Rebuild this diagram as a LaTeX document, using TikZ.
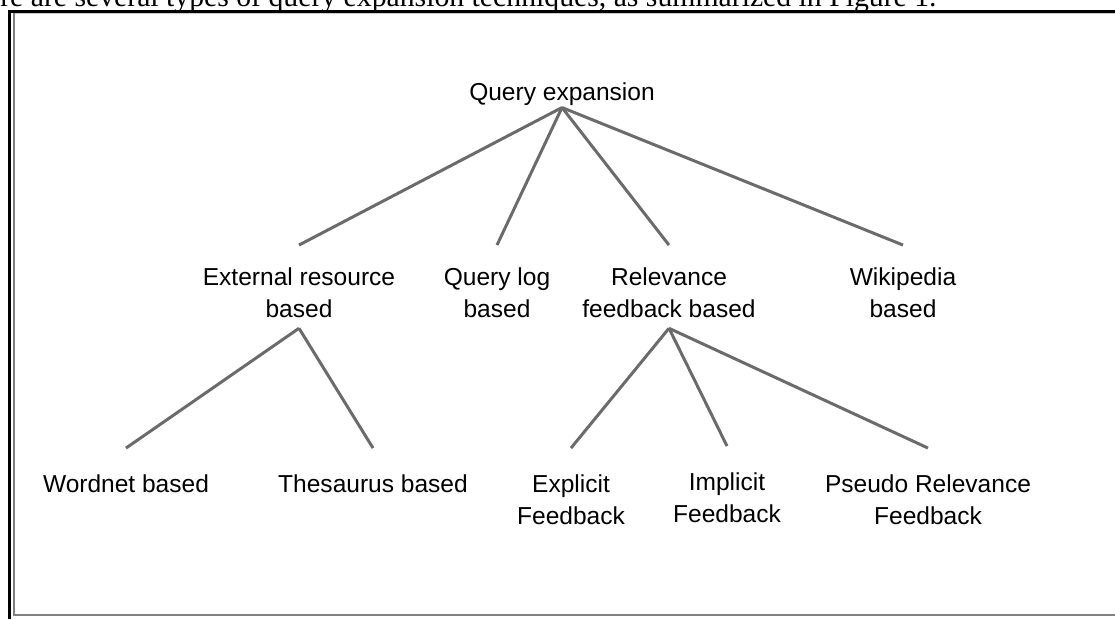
\documentclass[tikz,border=0pt]{standalone}
\usepackage{fontspec}
\setmainfont{Liberation Sans}
\newfontfamily\bodyserif{Liberation Serif}
\usepackage{tikz}
\usetikzlibrary{positioning}

\begin{document}
\begin{tikzpicture}[
        x=0.75pt, y=-0.75pt,
        font=\fontsize{18.4}{24}\selectfont,
        lbl/.style={align=center, inner sep=0pt},
        edge/.style={draw=black!58, line width=2.25pt},
    ]
    \clip (0,0) rectangle (1115,619);

    % ---- Running text above the figure ----
    \node[anchor=base west, inner sep=0pt, font=\bodyserif\fontsize{22.3}{26}\selectfont] (runin) at (0,6) {re are several types of query expansion techniques, as summarized in Figure 1.};

    % ---- Frame ----
    \draw[black, line width=2pt] (9.5,619) -- (9.5,11.5) -- (1115,11.5);
    \draw[black!20, line width=1pt] (14,13.5) -- (1115,13.5);
    \draw[black!50, line width=2.2pt] (14,13) -- (14,615) -- (1115,615);

    % ---- Root ----
    \node[lbl] (qe) at (562,94.5) {Query expansion};

    % ---- Second level ----
    \node[lbl] (ext) at (299,293) {External resource\\based};
    \node[lbl] (qlog) at (497,293) {Query log\\based};
    \node[lbl] (rel) at (669,293) {Relevance\\feedback based};
    \node[lbl] (wiki) at (903,293) {Wikipedia\\based};

    % ---- Third level ----
    \node[lbl] (wnet) at (126,484) {Wordnet based};
    \node[lbl] (thes) at (373,484) {Thesaurus based};
    \node[lbl] (expl) at (571,500) {Explicit\\Feedback};
    \node[lbl] (impl) at (727,498) {Implicit\\Feedback};
    \node[lbl] (prf) at (928,500) {Pseudo Relevance\\Feedback};

    % ---- Edges ----
    \foreach \child in {ext, qlog, rel, wiki}
        \draw[edge] ([yshift=-1pt]qe.south) -- ([yshift=17pt]\child.north);
    \foreach \child in {wnet, thes}
        \draw[edge] ([yshift=-7.5pt]ext.south) -- ([yshift=20pt]\child.north);
    \foreach \child in {expl, impl, prf}
        \draw[edge] ([yshift=-7.5pt]rel.south) -- ([yshift=20pt]\child.north);
\end{tikzpicture}
\end{document}
